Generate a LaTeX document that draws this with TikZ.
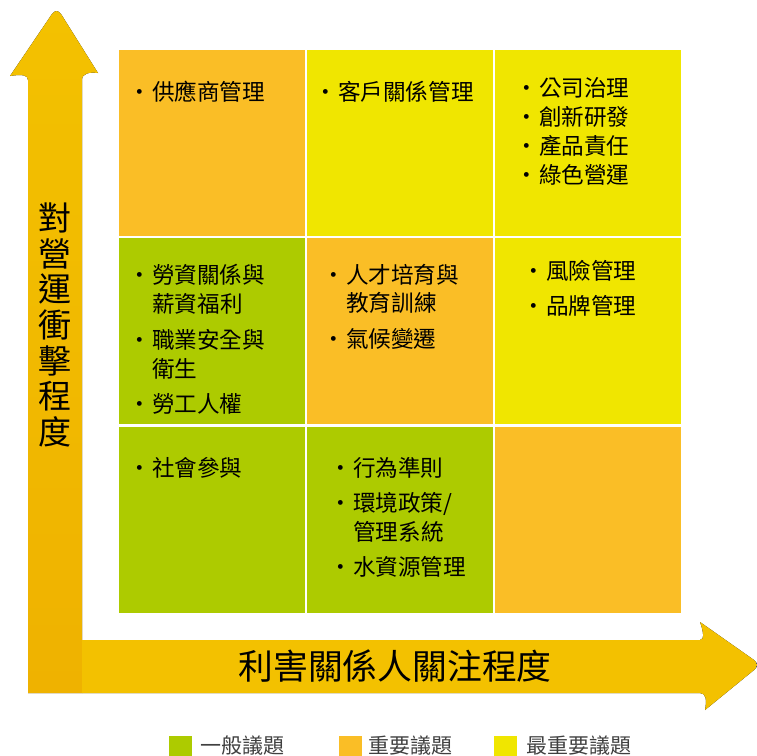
\documentclass[tikz,border=0pt]{standalone}
\usepackage{fontspec}
\newfontfamily\cjk{Noto Sans CJK TC}
\usetikzlibrary{positioning}
\definecolor{ggreen}{HTML}{ADCB00}
\definecolor{gorange}{HTML}{FABE26}
\definecolor{gyellow}{HTML}{F0E600}
\definecolor{arrtop}{HTML}{F3C100}
\definecolor{arrmid}{HTML}{F6DA00}
\definecolor{arrbot}{HTML}{EFB200}
\newcommand{\itm}{\makebox[15pt][l]{\makebox[6pt]{·}}}
\newcommand{\ind}{\hspace*{15pt}}
\begin{document}
\begin{tikzpicture}[x=1pt, y=-1pt,
    cell/.style = {minimum width=186pt, minimum height=186pt, inner sep=0pt},
    txt/.style = {anchor=north west, align=left, inner sep=0pt, font=\cjk\fontsize{22.6}{28.5}\selectfont},
    key/.style = {minimum width=23pt, minimum height=21pt, inner sep=0pt},
    keytxt/.style = {inner sep=0pt, text=black!75, font=\cjk\fontsize{21}{24}\selectfont}]
    \useasboundingbox (0,0) rectangle (757,755);

    % axes
    \fill[top color=arrtop, middle color=arrmid, bottom color=arrbot]
        (28,693) -- (28,80) .. controls (28,75) and (22,74) .. (10,76)
        -- (52,14) .. controls (55,10) and (58,10) .. (61,14)
        -- (98,73) .. controls (90,72) and (82,73) .. (82,80) -- (82,693) -- cycle;
    \fill[top color=arrtop, middle color=arrmid, bottom color=arrtop]
        (82,640) -- (700,640) .. controls (705,640) and (703,630) .. (700,622)
        -- (754,660) .. controls (758,663) and (758,667) .. (754,670)
        -- (705,710) .. controls (707,700) and (706,693) .. (700,693) -- (82,693) -- cycle;
    \node[font=\cjk\fontsize{34.8}{34}\selectfont] (xlab) at (395,666) {利害關係人關注程度};
    \node[align=center, font=\cjk\fontsize{33}{35.7}\selectfont] (ylab) at (55,325)
        {對\\營\\運\\衝\\擊\\程\\度};

    % grid
    \node[cell, fill=gorange] (c11) at (212,143) {};
    \node[cell, fill=gyellow] (c12) at (400,143) {};
    \node[cell, fill=gyellow] (c13) at (588,143) {};
    \node[cell, fill=ggreen]  (c21) at (212,331) {};
    \node[cell, fill=gorange] (c22) at (400,331) {};
    \node[cell, fill=gyellow] (c23) at (588,331) {};
    \node[cell, fill=ggreen]  (c31) at (212,520) {};
    \node[cell, fill=ggreen]  (c32) at (400,520) {};
    \node[cell, fill=gorange] (c33) at (588,520) {};

    \node[txt] (t11) at (137,81) {\itm 供應商管理};
    \node[txt] (t12) at (323,81) {\itm 客戶關係管理};
    \node[txt, font=\cjk\fontsize{22.6}{29}\selectfont] (t13) at (524,77)
        {\itm 公司治理\\\itm 創新研發\\\itm 產品責任\\\itm 綠色營運};
    \node[txt] (t21) at (137,264) {\itm 勞資關係與\\\ind 薪資福利\\[8pt]\itm 職業安全與\\\ind 衛生\\[7pt]\itm 勞工人權};
    \node[txt] (t22) at (331,264) {\itm 人才培育與\\\ind 教育訓練\\[7pt]\itm 氣候變遷};
    \node[txt] (t23) at (531,260) {\itm 風險管理\\[7pt]\itm 品牌管理};
    \node[txt] (t31) at (137,457) {\itm 社會參與};
    \node[txt] (t32) at (338,457) {\itm 行為準則\\[7pt]\itm 環境政策/\\\ind 管理系統\\[7pt]\itm 水資源管理};

    % legend
    \node[key, fill=ggreen]  (k1) at (180,746) {};
    \node[keytxt, right=9pt of k1] (l1) {一般議題};
    \node[key, fill=gorange] (k2) at (350,746) {};
    \node[keytxt, right=7pt of k2] (l2) {重要議題};
    \node[key, fill=gyellow] (k3) at (505,746) {};
    \node[keytxt, right=10pt of k3] (l3) {最重要議題};
\end{tikzpicture}
\end{document}
